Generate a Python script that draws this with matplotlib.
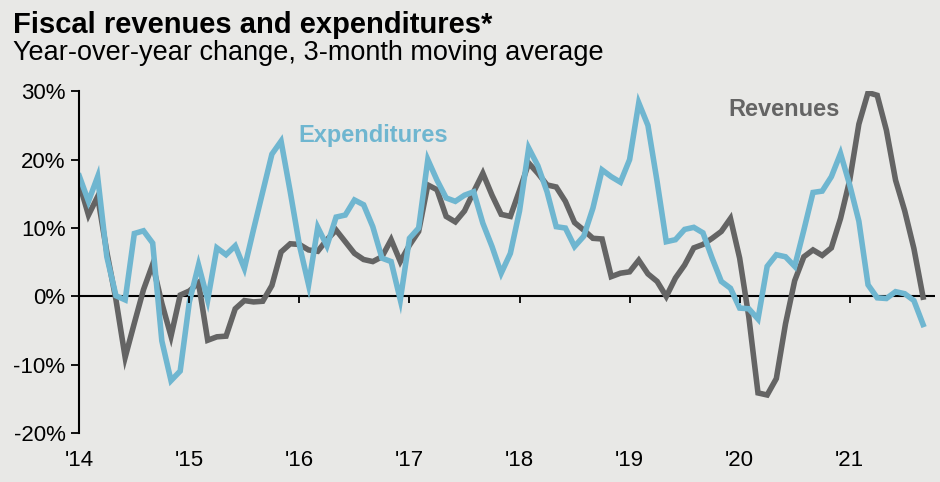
import numpy as np
import matplotlib
matplotlib.use('Agg')
import matplotlib.pyplot as plt
from matplotlib.transforms import blended_transform_factory

# monthly, Jan 2014 - Sep 2021, % y/y 3m moving average
revenues = [16.5, 11.9, 14.6, 6.5, -0.5, -8.9, -3.9, 1.0, 4.7, -1.0, -5.8, 0.2,
            0.8, 2.0, -6.4, -5.9, -5.8, -1.8, -0.6, -0.8, -0.7, 1.6, 6.5, 7.7,
            7.6, 6.8, 6.6, 8.3, 9.7, 8.0, 6.3, 5.4, 5.1, 5.8, 8.3, 5.1,
            7.5, 9.5, 16.3, 15.6, 11.7, 10.9, 12.5, 15.3, 18.0, 14.8, 12.0, 11.7,
            15.5, 19.5, 18.0, 16.3, 16.0, 13.9, 10.8, 9.7, 8.5, 8.4, 2.9, 3.4,
            3.6, 5.3, 3.3, 2.2, 0.0, 2.7, 4.6, 7.1, 7.6, 8.5, 9.5, 11.4,
            5.6, -3.0, -14.1, -14.4, -12.0, -4.0, 2.3, 5.8, 6.8, 6.0, 7.1, 11.4,
            17.0, 25.2, 29.8, 29.4, 24.3, 17.0, 12.5, 7.0, -0.1]
expenditures = [17.6, 13.9, 17.5, 5.8, 0.1, -0.5, 9.2, 9.6, 7.8, -6.5, -12.3, -10.9,
                -0.8, 4.6, -0.5, 7.1, 6.1, 7.4, 4.1, 9.8, 15.3, 20.8, 22.7, 15.3,
                7.5, 1.7, 10.1, 7.4, 11.6, 11.9, 14.1, 13.4, 10.2, 5.6, 5.1, -0.5,
                8.5, 10.0, 20.0, 17.0, 14.4, 13.9, 14.8, 15.3, 10.7, 7.3, 3.4, 6.3,
                12.5, 21.7, 19.1, 15.3, 10.2, 10.0, 7.3, 8.8, 12.9, 18.5, 17.5, 16.7,
                20.0, 28.3, 25.0, 16.8, 8.0, 8.3, 9.8, 10.1, 9.3, 5.6, 2.2, 1.2,
                -1.7, -1.8, -3.3, 4.4, 6.1, 5.8, 4.4, 9.7, 15.2, 15.4, 17.5, 20.9,
                16.3, 11.0, 1.7, -0.2, -0.3, 0.7, 0.4, -0.6, -4.1]
year_labels = ["'14", "'15", "'16", "'17", "'18", "'19", "'20", "'21"]
y_ticks = [-20, -10, 0, 10, 20, 30]

bg = '#e8e8e6'
blue = '#6fb6d0'
grey = '#646464'
plt.rcParams['font.family'] = ['Liberation Sans', 'DejaVu Sans']

months = np.arange(len(revenues))

fig = plt.figure(figsize=(9.4, 4.82), dpi=100, facecolor=bg)
ax = fig.add_axes([79.3 / 940, 48.7 / 482, (935 - 79.3) / 940, (433.3 - 91.2) / 482])
ax.set_facecolor(bg)

ax.plot(months, revenues, color=grey, lw=4.0, solid_joinstyle='miter')
ax.plot(months, expenditures, color=blue, lw=4.0, solid_joinstyle='miter')
ax.axhline(0, color='black', lw=1.5, zorder=1)

ax.set_xlim(0, 93.3)
ax.set_ylim(-20, 30)
for s in ['top', 'right', 'bottom']:
    ax.spines[s].set_visible(False)
ax.spines['left'].set_linewidth(1.5)

ax.set_yticks(y_ticks)
ax.set_yticklabels(['%d%%' % v for v in y_ticks], fontsize=16)
ax.tick_params(axis='y', direction='out', length=6, width=1.3, pad=4)

# year ticks hang off the zero line, labels sit under the plot
year_pos = [12 * i for i in range(len(year_labels))]
ax.set_xticks([])
ax.vlines(year_pos[1:], -0.9, 0, color='black', lw=1.3)
trans = blended_transform_factory(ax.transData, ax.transAxes)
for p, lab in zip(year_pos, year_labels):
    ax.text(p, -0.05, lab, transform=trans, ha='center', va='top', fontsize=16)

ax.text(32.0, 23.5, 'Expenditures', color=blue, fontsize=17, fontweight='bold',
        va='center', ha='center')
ax.text(76.8, 27.3, 'Revenues', color=grey, fontsize=17, fontweight='bold',
        va='center', ha='center')

fig.text(13 / 940, 1 - 33 / 482, 'Fiscal revenues and expenditures*', fontsize=21,
         fontweight='bold', va='baseline', ha='left')
fig.text(13 / 940, 1 - 60 / 482, 'Year-over-year change, 3-month moving average',
         fontsize=19.5, va='baseline', ha='left')

fig.savefig('out.png', dpi=100, facecolor=bg)
